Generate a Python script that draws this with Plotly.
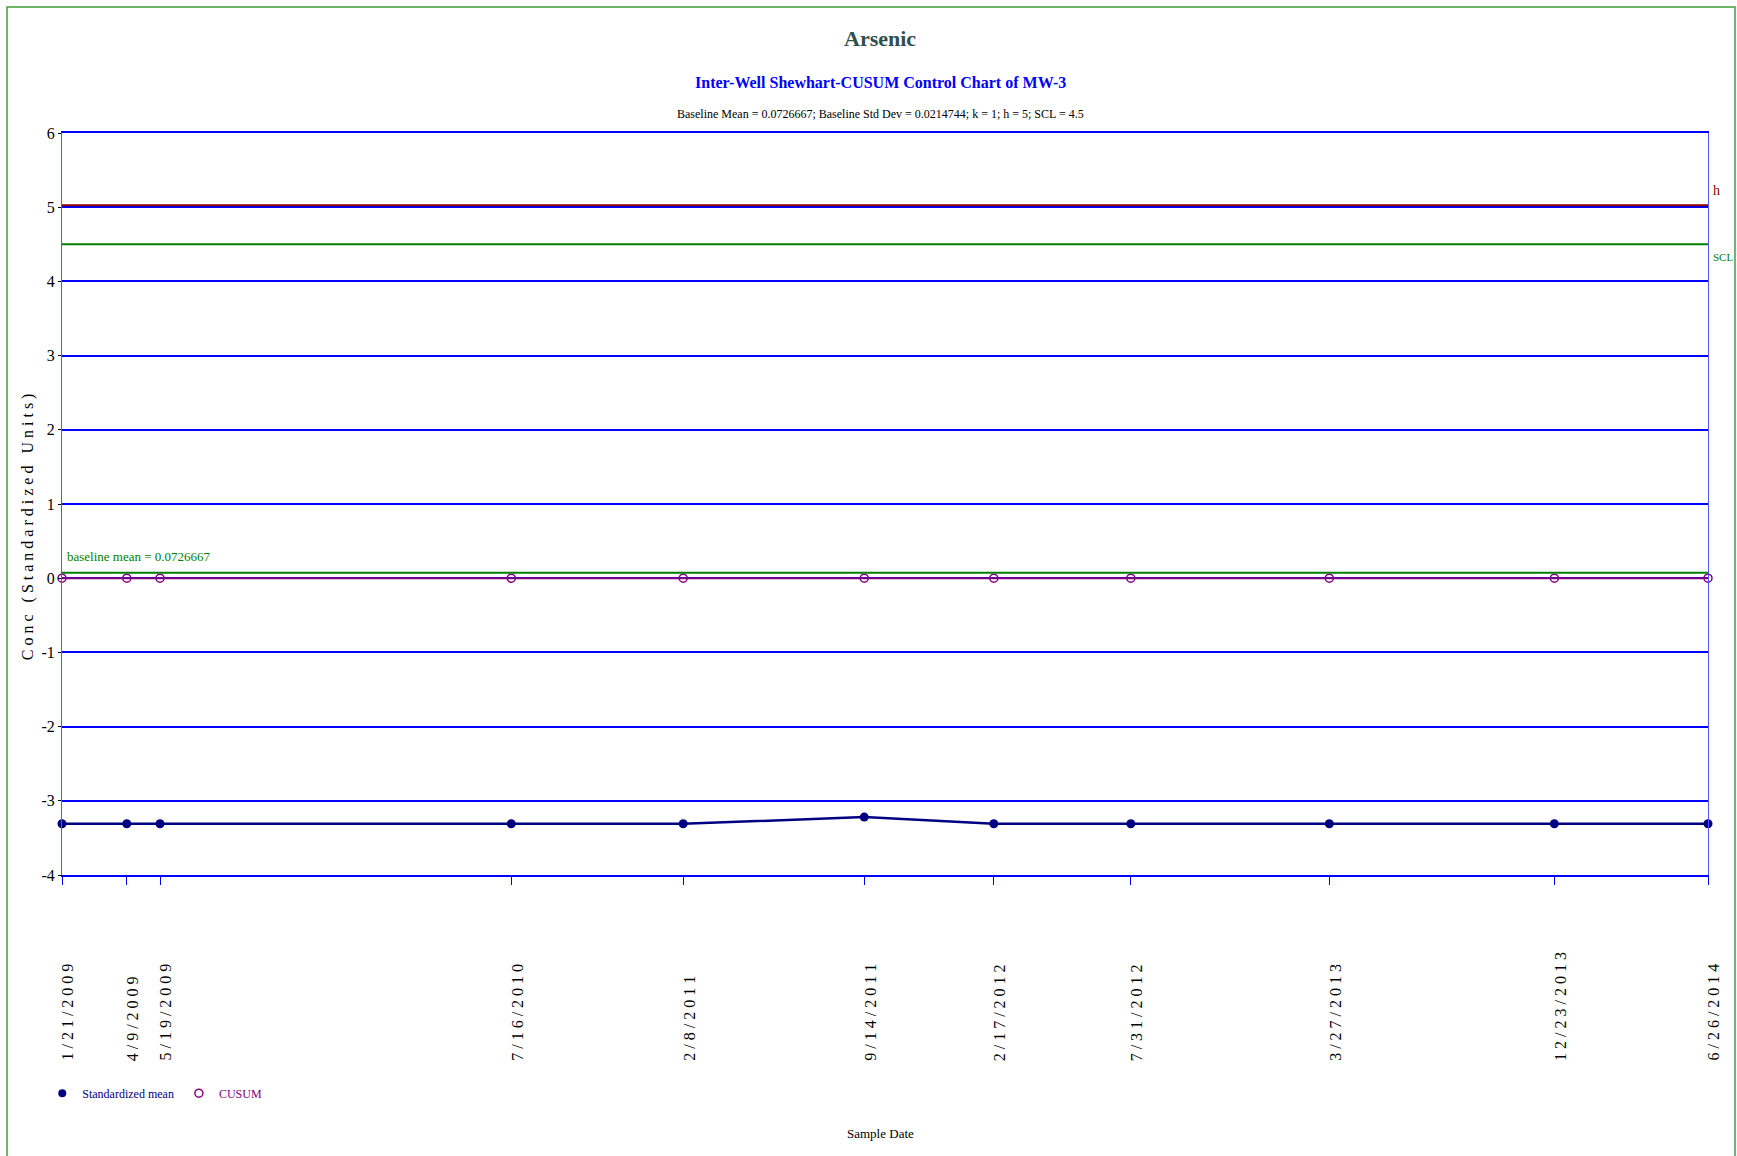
import plotly.graph_objects as go

# ---- data ----
dates = ["2009-01-21", "2009-04-09", "2009-05-19", "2010-07-16", "2011-02-08",
         "2011-09-14", "2012-02-17", "2012-07-31", "2013-03-27", "2013-12-23",
         "2014-06-26"]
date_labels = ["1/21/2009", "4/9/2009", "5/19/2009", "7/16/2010", "2/8/2011",
               "9/14/2011", "2/17/2012", "7/31/2012", "3/27/2013", "12/23/2013",
               "6/26/2014"]
std_mean = [-3.31, -3.31, -3.31, -3.31, -3.31, -3.22, -3.31, -3.31, -3.31, -3.31, -3.31]
cusum = [0, 0, 0, 0, 0, 0, 0, 0, 0, 0, 0]
BASELINE_MEAN = 0.0726667
H = 5
SCL = 4.5
y_ticks = [-4, -3, -2, -1, 0, 1, 2, 3, 4, 5, 6]

FONT = "Liberation Serif, Times New Roman, serif"
NAVY = "#000080"
PURPLE = "#800080"
BLUE = "#0000FF"
GREEN = "#008000"
DARKRED = "#8B0000"


def spaced(s):
    return " ".join(list(s))


fig = go.Figure()

# CUSUM
fig.add_trace(go.Scatter(
    x=dates, y=cusum, mode="lines+markers", name="CUSUM",
    line=dict(color=PURPLE, width=2),
    marker=dict(symbol="circle-open", size=8, color=PURPLE, line=dict(width=1.5)),
    cliponaxis=False, showlegend=False))

# Standardized mean
fig.add_trace(go.Scatter(
    x=dates, y=std_mean, mode="lines+markers", name="Standardized mean",
    line=dict(color=NAVY, width=2.5),
    marker=dict(symbol="circle", size=9, color=NAVY),
    cliponaxis=False, showlegend=False))

# legend-only entries (markers only)
fig.add_trace(go.Scatter(
    x=[None], y=[None], mode="markers",
    name="<span style='color:#000080'>Standardized mean</span>",
    marker=dict(symbol="circle", size=8, color=NAVY)))
fig.add_trace(go.Scatter(
    x=[None], y=[None], mode="markers",
    name="<span style='color:#800080'>CUSUM</span>",
    marker=dict(symbol="circle-open", size=8, color=PURPLE, line=dict(width=1.5))))

# reference lines
fig.add_shape(type="line", xref="paper", x0=0, x1=1, yref="y",
              ysizemode="pixel", yanchor=H, y0=2, y1=2,
              line=dict(color=DARKRED, width=2))
fig.add_shape(type="line", xref="paper", x0=0, x1=1, yref="y", y0=SCL, y1=SCL,
              line=dict(color=GREEN, width=2))
fig.add_shape(type="line", xref="paper", x0=0, x1=1, yref="y",
              y0=BASELINE_MEAN, y1=BASELINE_MEAN, line=dict(color=GREEN, width=2))

# outer green frame
fig.add_shape(type="rect", xref="paper", yref="paper",
              x0=-0.0334, x1=1.0164, y0=-0.40, y1=1.1698,
              line=dict(color="rgb(60,160,60)", width=1.5), layer="below")

annotations = []
# titles
annotations.append(dict(text="<b>Arsenic</b>", x=0.497, y=1.1267, xref="paper", yref="paper",
                        showarrow=False, font=dict(family=FONT, size=22, color="#2F4F4F"),
                        xanchor="center", yanchor="middle"))
annotations.append(dict(text="<b>Inter-Well Shewhart-CUSUM Control Chart of MW-3</b>",
                        x=0.497, y=1.0674, xref="paper", yref="paper", showarrow=False,
                        font=dict(family=FONT, size=16, color=BLUE),
                        xanchor="center", yanchor="middle"))
annotations.append(dict(text=f"Baseline Mean = {BASELINE_MEAN}; Baseline Std Dev = 0.0214744; k = 1; h = {H}; SCL = {SCL}",
                        x=0.497, y=1.0256, xref="paper", yref="paper", showarrow=False,
                        font=dict(family=FONT, size=12, color="black"),
                        xanchor="center", yanchor="middle"))
# right labels
annotations.append(dict(text="h", x=1.0, y=H, xref="paper", yref="y", showarrow=False,
                        font=dict(family=FONT, size=14, color=DARKRED),
                        xanchor="left", yanchor="bottom", yshift=7, xshift=3))
annotations.append(dict(text="SCL", x=1.0, y=SCL, xref="paper", yref="y", showarrow=False,
                        font=dict(family=FONT, size=11, color=GREEN),
                        xanchor="left", yanchor="top", yshift=-5, xshift=3))
annotations.append(dict(text=f"baseline mean = {BASELINE_MEAN}", x=0.002, y=BASELINE_MEAN,
                        xref="paper", yref="y", showarrow=False,
                        font=dict(family=FONT, size=13, color=GREEN),
                        xanchor="left", yanchor="bottom", yshift=7))
# y title
annotations.append(dict(text=spaced("Conc (Standardized Units)"), x=-0.0207, y=0.47,
                        xref="paper", yref="paper", showarrow=False, textangle=-90,
                        font=dict(family=FONT, size=16, color="black"),
                        xanchor="center", yanchor="middle"))
# x date labels
for d, lab in zip(dates, date_labels):
    annotations.append(dict(text=spaced(lab), x=d, y=-0.2534, xref="x", yref="paper",
                            showarrow=False, textangle=-90,
                            font=dict(family=FONT, size=16, color="black"),
                            xanchor="center", yanchor="bottom", xshift=6))
# x title
annotations.append(dict(text="Sample Date", x=0.497, y=-0.349, xref="paper", yref="paper",
                        showarrow=False, font=dict(family=FONT, size=13, color="black"),
                        xanchor="center", yanchor="middle"))

fig.update_layout(
    width=1737, height=1156,
    paper_bgcolor="white", plot_bgcolor="white",
    margin=dict(l=62, r=29, t=133, b=281),
    font=dict(family=FONT, size=14, color="black"),
    annotations=annotations,
    showlegend=True,
    legend=dict(orientation="h", x=-0.012, y=-0.294, xanchor="left", yanchor="middle",
                font=dict(family=FONT, size=12), bgcolor="rgba(0,0,0,0)",
                itemwidth=30, tracegroupgap=0),
)

fig.update_xaxes(
    type="date", range=[dates[0], dates[-1]],
    tickvals=dates, showticklabels=False,
    ticks="outside", ticklen=8, tickcolor=BLUE, tickwidth=1,
    showgrid=False, zeroline=False,
    showline=True, mirror=True, linecolor=BLUE, linewidth=2,
)
fig.update_yaxes(
    range=[-4, 6], tickvals=y_ticks, ticktext=[str(v) for v in y_ticks],
    ticks="outside", ticklen=3, tickcolor="black",
    tickfont=dict(family=FONT, size=16, color="black"),
    showgrid=True, gridcolor=BLUE, gridwidth=2, zeroline=False,
    showline=True, mirror=True, linecolor="#5555FF", linewidth=1,
)

fig.write_html("out.html", config={"displayModeBar": False},
               post_script="document.body.style.margin='0';document.body.style.overflow='hidden';")
